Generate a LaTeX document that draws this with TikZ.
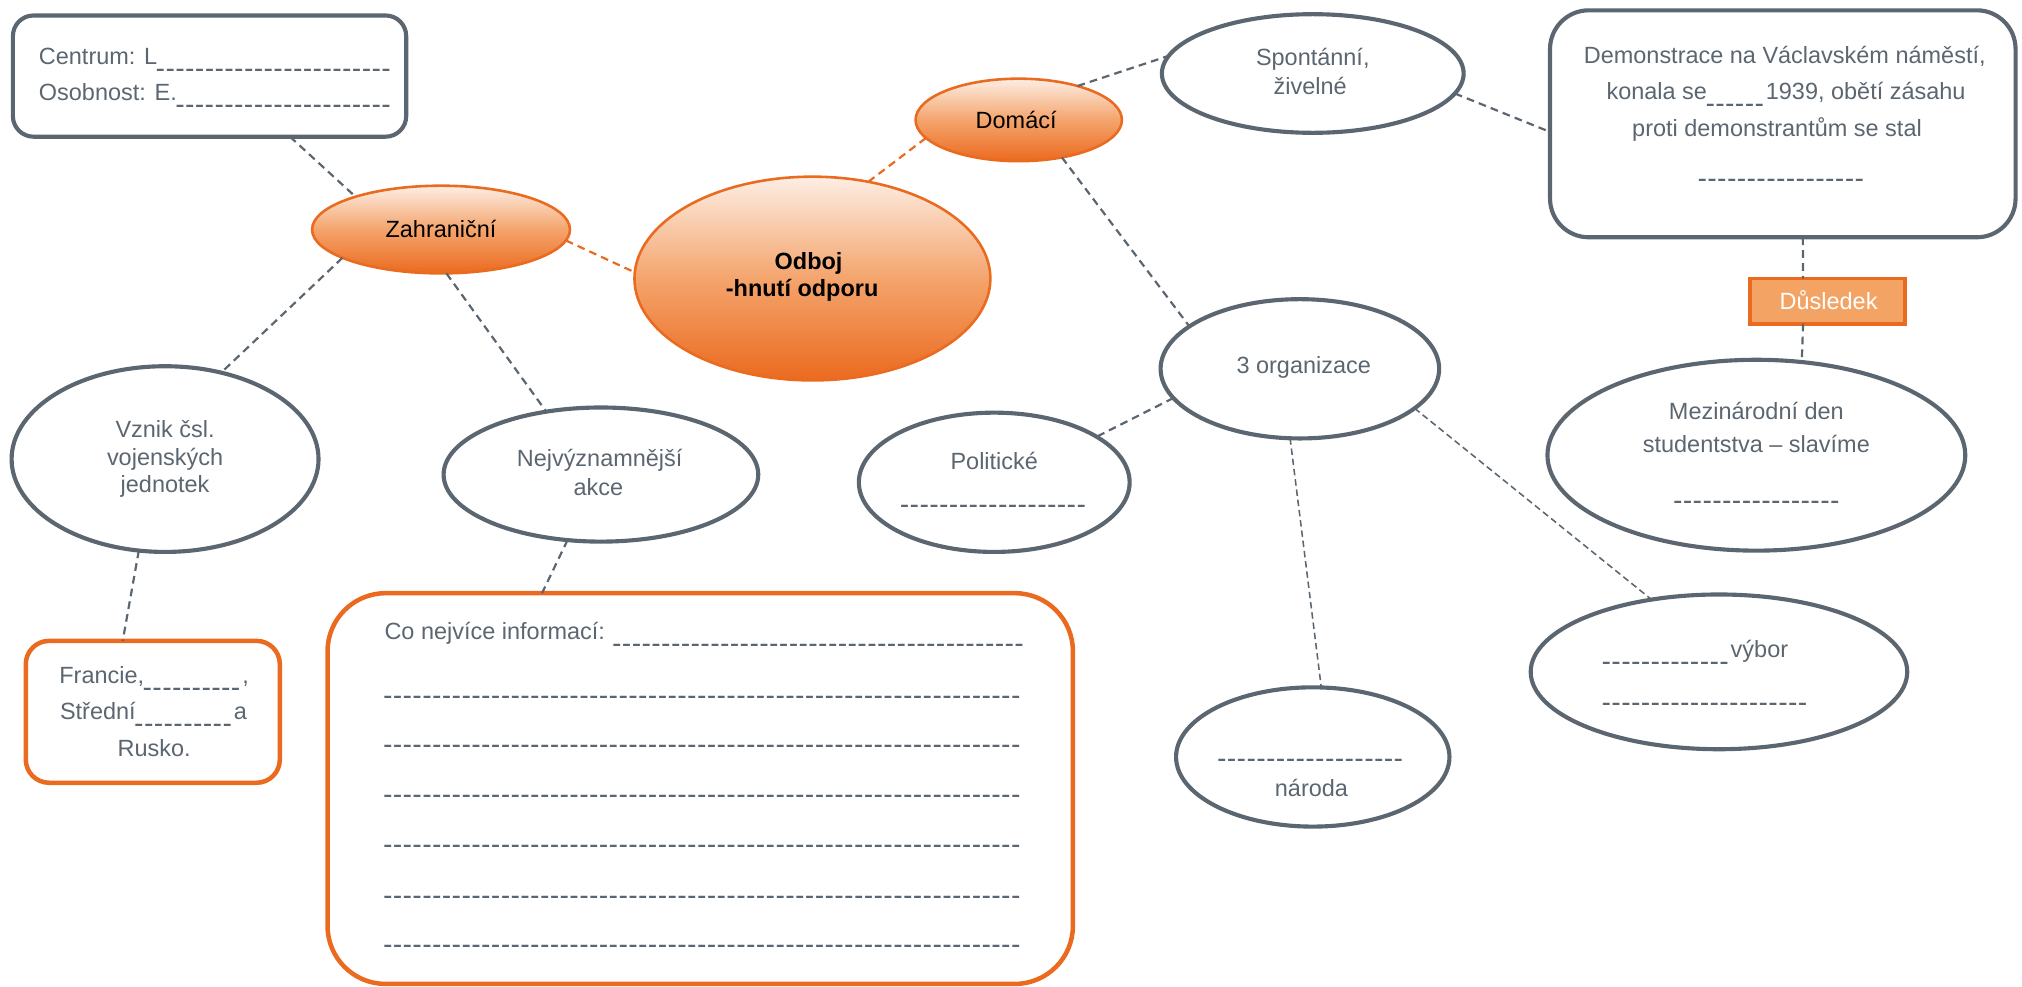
\documentclass[tikz,border=0pt]{standalone}
\usepackage{fontspec}
\setmainfont{Liberation Sans}
\usetikzlibrary{shapes.geometric}
\definecolor{gry}{HTML}{5B6670}
\definecolor{orng}{HTML}{EA6B1F}
\definecolor{ltor}{HTML}{F3A464}
\definecolor{toporng}{HTML}{FDEEE4}
\definecolor{midorng}{HTML}{F4A46C}
\definecolor{botorng}{HTML}{EB6A1F}
\newcommand\blank[1]{\foreach\bi in {1,...,#1}{\scalebox{0.5}[1.5]{\_}\hspace{0.14em}}}
\newcommand\myfs{\fontsize{18.2}{22}\selectfont}
\begin{document}
\begin{tikzpicture}[x=1pt,y=-1pt,
  gbox/.style={draw=gry, line width=3.2pt, rounded corners=#1, inner sep=0pt, outer sep=0pt},
  gbox/.default=16pt,
  gell/.style={ellipse, draw=gry, line width=3.2pt, inner sep=0pt, outer sep=0pt},
  oell/.style={ellipse, draw=orng, line width=2pt, top color=toporng, bottom color=botorng, middle color=midorng, inner sep=0pt, outer sep=0pt},
  obox/.style={draw=orng, line width=3.5pt, rounded corners=#1, inner sep=0pt, outer sep=0pt},
  obox/.default=18pt,
  tx/.style={anchor=base, inner sep=0pt, text=gry, font=\myfs},
  txl/.style={tx, anchor=base west},
  btx/.style={anchor=base, inner sep=0pt, text=black, font=\myfs},
  conn/.style={draw=gry, line width=1.7pt, dash pattern=on 6pt off 4pt},
  thinconn/.style={draw=gry, line width=1.2pt, dash pattern=on 5pt off 3pt},
  oconn/.style={draw=orng, line width=1.7pt, dash pattern=on 6pt off 4pt},
]
\useasboundingbox (0,0) rectangle (1568,765);

% shapes
\node[gbox=16pt, minimum width=305pt, minimum height=94pt] (tl) at (162.5,59) {};
\node[oell, minimum width=200pt, minimum height=68pt] (zah) at (342,178) {};
\node[oell, minimum width=276pt, minimum height=158pt] (od) at (630,216) {};
\node[oell, minimum width=160pt, minimum height=64pt] (dom) at (790,93) {};
\node[gell, minimum width=234pt, minimum height=92pt] (sp) at (1018,57) {};
\node[gbox=30pt, minimum width=361pt, minimum height=176pt] (dem) at (1382.5,96) {};
\node[draw=orng, line width=3pt, fill=ltor, minimum width=120pt, minimum height=35pt, inner sep=0pt, outer sep=0pt] (dus) at (1417,233.5) {};
\node[gell, minimum width=324pt, minimum height=148pt] (mez) at (1362,353) {};
\node[gell, minimum width=216pt, minimum height=108pt] (org) at (1008,286) {};
\node[gell, minimum width=210pt, minimum height=108pt] (pol) at (771,374) {};
\node[gell, minimum width=212pt, minimum height=108pt] (nar) at (1018,587) {};
\node[gell, minimum width=292pt, minimum height=120pt] (vyb) at (1333,521) {};
\node[gell, minimum width=238pt, minimum height=144pt] (vz) at (128,356) {};
\node[gell, minimum width=244pt, minimum height=104pt] (nej) at (466,368) {};
\node[obox=18pt, minimum width=197pt, minimum height=110pt] (fr) at (118.5,552) {};
\node[obox=45pt, minimum width=578pt, minimum height=303pt] (big) at (543,611.5) {};

% texts
\node[txl] (t1) at (30,50) {Centrum: L\blank{24}};
\node[txl] (t2) at (30,78) {Osobnost: E.\blank{22}};
\node[btx] (t3) at (342,184) {Zahraniční};
\node[btx, font=\myfs\bfseries] (t4) at (627,209) {Odboj};
\node[btx, font=\myfs\bfseries] (t5) at (622,230) {-hnutí odporu};
\node[btx] (t6) at (788,100) {Domácí};
\node[tx] (t7) at (1018,51) {Spontánní,};
\node[tx] (t8) at (1016,73) {živelné};
\node[tx] (t9) at (1384,49) {Demonstrace na Václavském náměstí,};
\node[tx] (t10) at (1385,77) {konala se\blank{6}1939, obětí zásahu};
\node[tx] (t11) at (1378,106) {proti demonstrantům se stal};
\node[tx] (t12) at (1381,135) {\blank{17}};
\node[tx, text=white] (t13) at (1418,240) {Důsledek};
\node[tx] (t14) at (1362,325) {Mezinárodní den};
\node[tx] (t15) at (1362,351) {studentstva – slavíme};
\node[tx] (t16) at (1362,385) {\blank{17}};
\node[tx] (t17) at (1011,290) {3 organizace};
\node[tx] (t18) at (771,364) {Politické};
\node[tx] (t19) at (770,388) {\blank{19}};
\node[tx] (t20) at (1016,585) {\blank{19}};
\node[tx] (t21) at (1017,618) {národa};
\node[txl] (t22) at (1243,510) {\blank{13}výbor};
\node[txl] (t23) at (1243,542) {\blank{21}};
\node[tx] (t24) at (128,339) {Vznik čsl.};
\node[tx] (t25) at (128,361) {vojenských};
\node[tx] (t26) at (128,382) {jednotek};
\node[tx] (t27) at (465,362) {Nejvýznamnější};
\node[tx] (t28) at (464,384) {akce};
\node[tx] (t29) at (119.5,530) {Francie,\blank{10},};
\node[tx] (t30) at (119,558) {Střední\blank{10}a};
\node[tx] (t31) at (119.5,587) {Rusko.};
\node[txl] (t32) at (298,496) {Co nejvíce informací: \blank{42}};
\node[txl] (t33) at (298,536) {\blank{65}};
\node[txl] (t34) at (298,574) {\blank{65}};
\node[txl] (t35) at (298,613) {\blank{65}};
\node[txl] (t36) at (298,652) {\blank{65}};
\node[txl] (t37) at (298,691) {\blank{65}};
\node[txl] (t38) at (298,729) {\blank{65}};

% connectors
\draw[conn] (tl.-37) -- (zah.159);
\draw[conn] (zah.196) -- (vz.57);
\draw[conn] (zah.-83) -- (nej.131);
\draw[conn] (vz.-106) -- (fr.113);
\draw[conn] (nej.-117) -- (big.129);
\draw[oconn] (zah.-5) -- (od.178);
\draw[oconn] (od.60) -- (dom.191);
\draw[conn] (dom.30) -- (sp.173);
\draw[conn] (dom.-41) -- (org.159);
\draw[conn] (sp.-8) -- (dem.182);
\draw[conn] (dem.-80) -- (dus.137);
\draw[conn] (dus.-137) -- (mez.64);
\draw[conn] (org.193) -- (pol.24);
\draw[thinconn] (org.-98) -- (nar.83);
\draw[thinconn] (org.-19) -- (vyb.133);
\end{tikzpicture}
\end{document}
